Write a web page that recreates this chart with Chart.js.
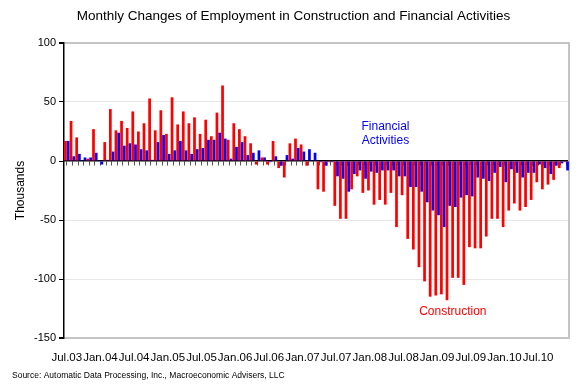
<!DOCTYPE html>
<html><head><meta charset="utf-8">
<script src="https://cdn.jsdelivr.net/npm/chart.js@4"></script>
<style>html,body{margin:0;padding:0;background:#fff;}#wrap{width:585px;height:388px;position:relative;}</style>
</head><body><div id="wrap"><canvas id="c" width="585" height="388"></canvas></div>
<script>
const months = [
 'Jul.03','Aug.03','Sep.03','Oct.03','Nov.03','Dec.03',
 'Jan.04','Feb.04','Mar.04','Apr.04','May.04','Jun.04','Jul.04','Aug.04','Sep.04','Oct.04','Nov.04','Dec.04',
 'Jan.05','Feb.05','Mar.05','Apr.05','May.05','Jun.05','Jul.05','Aug.05','Sep.05','Oct.05','Nov.05','Dec.05',
 'Jan.06','Feb.06','Mar.06','Apr.06','May.06','Jun.06','Jul.06','Aug.06','Sep.06','Oct.06','Nov.06','Dec.06',
 'Jan.07','Feb.07','Mar.07','Apr.07','May.07','Jun.07','Jul.07','Aug.07','Sep.07','Oct.07','Nov.07','Dec.07',
 'Jan.08','Feb.08','Mar.08','Apr.08','May.08','Jun.08','Jul.08','Aug.08','Sep.08','Oct.08','Nov.08','Dec.08',
 'Jan.09','Feb.09','Mar.09','Apr.09','May.09','Jun.09','Jul.09','Aug.09','Sep.09','Oct.09','Nov.09','Dec.09',
 'Jan.10','Feb.10','Mar.10','Apr.10','May.10','Jun.10','Jul.10','Aug.10','Sep.10','Oct.10','Nov.10','Dec.10'
];
const construction = [
 17,34,20,0,2,27,
 0,16,44,26,34,28,42,25,32,53,26,43,
 23,54,31,42,32,37,23,35,21,41,64,18,
 32,27,21,15,-3,3,-3,17,-6,-14,15,19,
 14,-4,0,-24,-26,-1,-38,-49,-49,-24,-13,-27,
 -25,-37,-33,-37,-27,-56,-29,-66,-75,-90,-102,-115,
 -114,-113,-118,-99,-99,-105,-73,-74,-74,-64,-49,-49,
 -56,-42,-36,-42,-39,-33,-18,-24,-20,-16,-6,-1
];
const financial = [
 17,4,6,3,3,7,
 -3,1,8,24,13,15,14,10,9,1,16,22,
 6,9,17,9,6,10,11,18,18,24,19,2,
 12,16,5,7,9,3,-1,4,-4,5,2,11,
 8,10,7,-1,-4,-1,-13,-15,-26,-11,-8,-15,
 -9,-10,-8,-8,-8,-13,-13,-22,-22,-26,-35,-42,
 -46,-56,-38,-39,-31,-29,-30,-14,-15,-17,-10,-5,
 -18,-7,-10,-14,-10,-10,-3,-6,-11,-4,-2,-8
];
const yTicks = [100, 50, 0, -50, -100, -150];
const xTickLabels = ['Jul.03','Jan.04','Jul.04','Jan.05','Jul.05','Jan.06','Jul.06','Jan.07','Jul.07','Jan.08','Jul.08','Jan.09','Jul.09','Jan.10','Jul.10'];
const FONT = '"Liberation Sans", Arial, Helvetica, sans-serif';

const textPlugin = {
  id: 'texts',
  afterDraw(chart) {
    const {ctx, scales: {x, y}} = chart;
    ctx.save();
    ctx.textAlign = 'center';
    ctx.textBaseline = 'middle';
    ctx.fillStyle = '#000';
    ctx.font = '13.5px ' + FONT;
    ctx.fillText('Monthly Changes of Employment in Construction and Financial Activities', 293.5, 16.5);
    ctx.font = '12px ' + FONT;
    ctx.fillStyle = '#0000FF';
    ctx.fillText('Financial', x.getPixelForValue(56.8), y.getPixelForValue(29));
    ctx.fillText('Activities', x.getPixelForValue(56.8), y.getPixelForValue(17));
    ctx.fillStyle = '#FF0000';
    ctx.fillText('Construction', x.getPixelForValue(68.8), y.getPixelForValue(-128));
    ctx.font = '8.5px ' + FONT;
    ctx.textAlign = 'left';
    ctx.fillStyle = '#000';
    ctx.fillText('Source: Automatic Data Processing, Inc., Macroeconomic Advisers, LLC', 12, 376);
    ctx.restore();
  }
};

new Chart(document.getElementById('c'), {
  type: 'bar',
  data: {
    labels: months,
    datasets: [
      {label: 'Construction', data: construction, backgroundColor: '#FF0000', borderWidth: 0, categoryPercentage: 0.97, barPercentage: 1.0, xAxisID: 'x', yAxisID: 'y'},
      {label: 'Financial Activities', data: financial, backgroundColor: '#0000FF', borderWidth: 0, categoryPercentage: 0.97, barPercentage: 1.0, xAxisID: 'x', yAxisID: 'y'}
    ]
  },
  options: {
    responsive: false,
    animation: false,
    layout: {padding: {left: 0, right: 16, top: 43, bottom: 26}},
    plugins: {
      legend: {display: false},
      tooltip: {enabled: false},
      title: {display: false}
    },
    scales: {
      x: {
        type: 'category', position: {y: 0}, offset: true,
        ticks: {display: false, autoSkip: false},
        grid: {display: true, drawOnChartArea: false, drawTicks: true, tickLength: 4, offset: false, tickColor: '#555', color: '#555'},
        border: {display: true, color: '#000', width: 1.5}
      },
      x2: {
        type: 'category', position: 'bottom', offset: true,
        grid: {display: false, drawTicks: false},
        border: {display: false},
        ticks: {autoSkip: false, maxRotation: 0, minRotation: 0, padding: 13, color: '#000',
          font: {family: FONT, size: 11.5},
          callback: function(v) { const l = this.getLabelForValue(v); return xTickLabels.includes(l) ? l : ''; }},
        afterFit(s) { s.height = 24; }
      },
      y: {
        min: -150, max: 100,
        afterBuildTicks(s) { s.ticks = yTicks.map(v => ({value: v})); },
        ticks: {color: '#000', padding: 3, font: {family: FONT, size: 11}},
        grid: {
          drawTicks: true, tickLength: 5, tickColor: '#000',
          color: c => c.tick.value === 0 ? 'rgba(0,0,0,0)' : ((c.tick.value === 100 || c.tick.value === -150) ? '#c4c4c4' : '#e6e6e6'),
          lineWidth: c => (c.tick.value === 100 || c.tick.value === -150) ? 2 : 1,
          dash: c => (c.tick.value === 100 || c.tick.value === -150) ? [] : [4, 3],
          borderDash: c => (c.tick.value === 100 || c.tick.value === -150) ? [] : [4, 3]
        },
        border: {display: true, color: '#000', width: 1.5},
        title: {display: true, text: 'Thousands', color: '#000', font: {family: FONT, size: 12}, padding: {top: 13, bottom: 0}},
        afterFit(s) { s.width = 64; }
      },
      yR: {
        position: 'right', min: -150, max: 100,
        grid: {drawOnChartArea: false, drawTicks: false},
        ticks: {display: false},
        border: {display: true, color: '#c4c4c4', width: 2},
        afterFit(s) { s.width = 0; }
      }
    }
  },
  plugins: [textPlugin]
});
</script></body></html>
